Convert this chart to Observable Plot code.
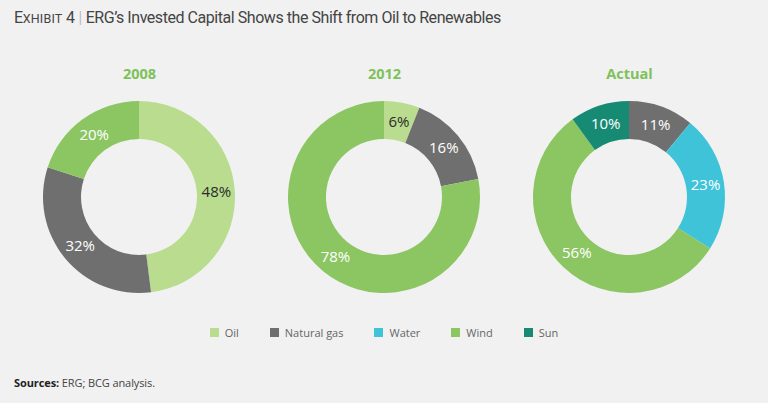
<!DOCTYPE html>
<html><head><meta charset="utf-8">
<script src="https://cdn.jsdelivr.net/npm/d3@7"></script>
<script src="https://cdn.jsdelivr.net/npm/@observablehq/plot@0.6"></script>
<style>
html,body{margin:0;padding:0;background:#f1f1f1;}
body{width:768px;height:403px;overflow:hidden;position:relative;font-family:"Open Sans",sans-serif;}
#title{position:absolute;left:14px;top:8px;font-family:Roboto,sans-serif;font-size:16px;color:#444;white-space:nowrap;letter-spacing:-0.45px;}
#title .sc{font-size:12.5px;letter-spacing:0.2px;}
#title .bar{color:#aaa;font-weight:300;padding:0 4px;}
#chart{position:absolute;left:0;top:50px;}
#legend{position:absolute;top:325px;left:0;width:768px;display:flex;justify-content:center;gap:31px;font-size:11px;color:#666;}
#legend .it{display:flex;align-items:center;gap:6px;}
#legend .sw{width:9px;height:9px;display:inline-block;}
#source{position:absolute;left:14px;top:375px;font-size:11px;color:#444;letter-spacing:-0.1px;}
#source b{color:#222;}
</style></head>
<body>
<div id="title">E<span class="sc">XHIBIT</span> 4<span class="bar">|</span>ERG’s Invested Capital Shows the Shift from Oil to Renewables</div>
<div id="chart"></div>
<div id="legend"></div>
<div id="source"><b>Sources:</b> ERG; BCG analysis.</div>
<script>
const sources = ["Oil", "Natural gas", "Water", "Wind", "Sun"];
const colors = ["#b9dc8f", "#6f6f6f", "#3ec3d9", "#8cc663", "#178a73"];
const charts = ["2008", "2012", "Actual"];
const shares2008 = [48, 32, 0, 20, 0];
const shares2012 = [6, 16, 0, 78, 0];
const sharesActual = [0, 11, 23, 56, 10];
const darkLabel = ["Oil"];

const sharesByChart = [shares2008, shares2012, sharesActual];
const rows = [];
charts.forEach((c, ci) => {
  const arcs = d3.pie().sort(null).value(d => d.value)(
    sources.map((s, i) => ({source: s, value: sharesByChart[ci][i]})));
  arcs.forEach(p => {
    if (p.data.value > 0) rows.push({chart: c, source: p.data.source, value: p.data.value,
      start: p.startAngle, end: p.endAngle, mid: (p.startAngle + p.endAngle) / 2});
  });
});

const R0 = 58, R1 = 96, RL = 77;

const ringRender = (index, scales, values) => {
  const g = d3.create("svg:g");
  const arc = d3.arc().innerRadius(R0).outerRadius(R1);
  for (const i of index) {
    g.append("path")
      .attr("transform", `translate(${values.x[i]},${values.y[i]})`)
      .attr("d", arc({startAngle: rows[i].start, endAngle: rows[i].end}))
      .attr("fill", values.fill[i]);
  }
  return g.node();
};

const shift = (index, scales, values, dims, ctx, next) => {
  const x = Array.from(values.x, (v, i) => v + RL * Math.sin(rows[i].mid));
  const y = Array.from(values.y, (v, i) => v - RL * Math.cos(rows[i].mid));
  return next(index, scales, {...values, x, y}, dims, ctx);
};

const chart = Plot.plot({
  width: 768,
  height: 260,
  margin: 0,
  style: {background: "transparent", fontFamily: "'Open Sans', sans-serif"},
  x: {type: "point", domain: charts, range: [139, 629.5], padding: 0, axis: null},
  y: {type: "point", domain: ["title", "ring"], range: [24, 147], padding: 0, axis: null},
  color: {domain: sources, range: colors},
  marks: [
    Plot.dot(rows, {x: "chart", y: () => "ring", fill: "source", render: ringRender}),
    Plot.text(rows, {filter: d => !darkLabel.includes(d.source), x: "chart", y: () => "ring",
      text: d => d.value + "%", fill: "white", fontSize: 15, render: shift}),
    Plot.text(rows, {filter: d => darkLabel.includes(d.source), x: "chart", y: () => "ring",
      text: d => d.value + "%", fill: "#2b2b2b", fontSize: 15, render: shift}),
    Plot.text(charts, {x: d => d, y: () => "title", text: d => d, fill: "#7dc15b",
      fontWeight: "bold", fontSize: 14.5})
  ]
});
document.getElementById("chart").appendChild(chart);

const legend = document.getElementById("legend");
sources.forEach((s, i) => {
  const it = document.createElement("div");
  it.className = "it";
  it.innerHTML = `<span class="sw" style="background:${colors[i]}"></span><span>${s}</span>`;
  legend.appendChild(it);
});
</script>
</body></html>
